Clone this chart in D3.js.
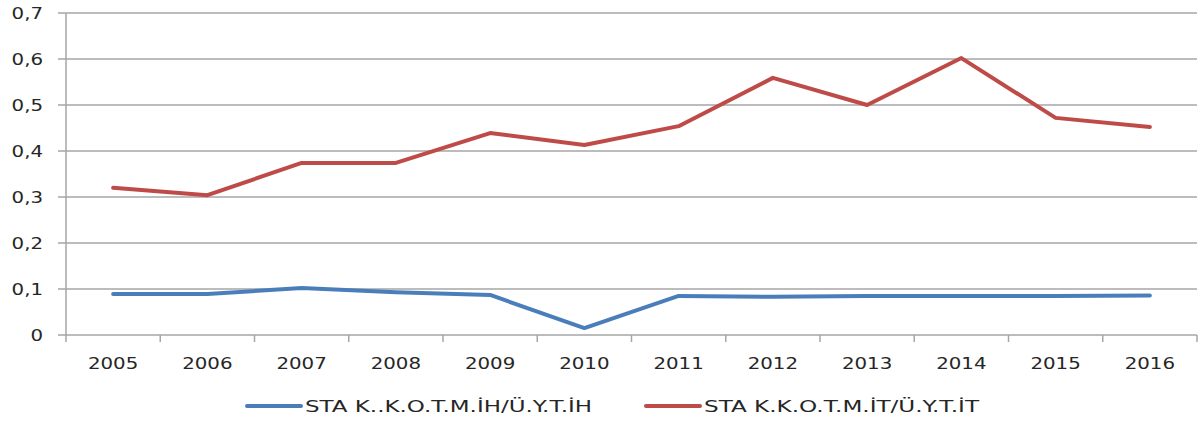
<!DOCTYPE html>
<html>
<head>
<meta charset="utf-8">
<script src="https://cdn.jsdelivr.net/npm/d3@7"></script>
<style>
  html, body { margin: 0; padding: 0; background: #fff; }
  svg text { font-family: "DejaVu Sans", Verdana, sans-serif; fill: #262626; }
</style>
</head>
<body>
<svg id="chart" width="1204" height="421"></svg>
<script>
// Years on the x axis
const years = ["2005", "2006", "2007", "2008", "2009", "2010", "2011", "2012", "2013", "2014", "2015", "2016"];
// Series values
const blueValues = [0.089, 0.089, 0.102, 0.093, 0.087, 0.015, 0.085, 0.083, 0.085, 0.085, 0.085, 0.086];
const redValues  = [0.320, 0.304, 0.374, 0.374, 0.439, 0.413, 0.454, 0.559, 0.500, 0.602, 0.472, 0.452];
// Series names
const seriesNames = ["STA K..K.O.T.M.İH/Ü.Y.T.İH", "STA K.K.O.T.M.İT/Ü.Y.T.İT"];
// Y tick values and labels
const yTicks = [0, 0.1, 0.2, 0.3, 0.4, 0.5, 0.6, 0.7];
const yTickLabels = ["0", "0,1", "0,2", "0,3", "0,4", "0,5", "0,6", "0,7"];

const colors = ["#4a7ebb", "#be4b48"];
const gridColor = "#a6a6a6";
const stretch = 1.32; // horizontal widening of the lettering

const svg = d3.select("#chart");
const plotLeft = 66, plotRight = 1197, plotTop = 13, plotBottom = 335;

const x = d3.scaleBand().domain(years).range([plotLeft, plotRight]);
const y = d3.scaleLinear().domain([0, 0.7]).range([plotBottom, plotTop]);

// Horizontal gridlines with small tick stubs on the left
svg.append("g").selectAll("line").data(yTicks).join("line")
  .attr("x1", plotLeft - 8).attr("x2", plotRight)
  .attr("y1", d => y(d)).attr("y2", d => y(d))
  .attr("stroke", gridColor).attr("stroke-width", 1.5);

// Y axis line
svg.append("line")
  .attr("x1", plotLeft).attr("x2", plotLeft).attr("y1", plotTop).attr("y2", plotBottom + 1)
  .attr("stroke", gridColor).attr("stroke-width", 1.5);

// X axis ticks at category boundaries
const boundaries = years.map(d => x(d)).concat([plotRight]);
svg.append("g").selectAll("line").data(boundaries).join("line")
  .attr("x1", d => d).attr("x2", d => d)
  .attr("y1", plotBottom).attr("y2", plotBottom + 7)
  .attr("stroke", gridColor).attr("stroke-width", 1.5);

function stretchedText(g, tx, ty, str, anchor) {
  return g.append("text")
    .attr("transform", `translate(${tx},${ty}) scale(${stretch},1)`)
    .attr("text-anchor", anchor)
    .attr("font-size", 15)
    .text(str);
}

// Y tick labels
const yLab = svg.append("g");
yTicks.forEach((t, i) => stretchedText(yLab, 43, y(t) + 5.5, yTickLabels[i], "end"));

// X tick labels
const xLab = svg.append("g");
years.forEach(yr => stretchedText(xLab, x(yr) + x.bandwidth() / 2, 369, yr, "middle"));

// Series lines
const line = d3.line()
  .x((d, i) => x(years[i]) + x.bandwidth() / 2)
  .y(d => y(d));

[blueValues, redValues].forEach((vals, i) => {
  svg.append("path")
    .datum(vals)
    .attr("d", line)
    .attr("fill", "none")
    .attr("stroke", colors[i])
    .attr("stroke-width", 4)
    .attr("stroke-linejoin", "round")
    .attr("stroke-linecap", "round");
});

// Legend
const legendItems = [
  { x1: 247, x2: 301, tx: 305, w: 287 },
  { x1: 646, x2: 700, tx: 704, w: 275 }
];
const leg = svg.append("g");
legendItems.forEach((it, i) => {
  leg.append("line")
    .attr("x1", it.x1).attr("x2", it.x2).attr("y1", 406).attr("y2", 406)
    .attr("stroke", colors[i]).attr("stroke-width", 4).attr("stroke-linecap", "round");
  leg.append("text")
    .attr("x", it.tx).attr("y", 412)
    .attr("font-size", 16)
    .attr("textLength", it.w)
    .attr("lengthAdjust", "spacingAndGlyphs")
    .text(seriesNames[i]);
});
</script>
</body>
</html>
